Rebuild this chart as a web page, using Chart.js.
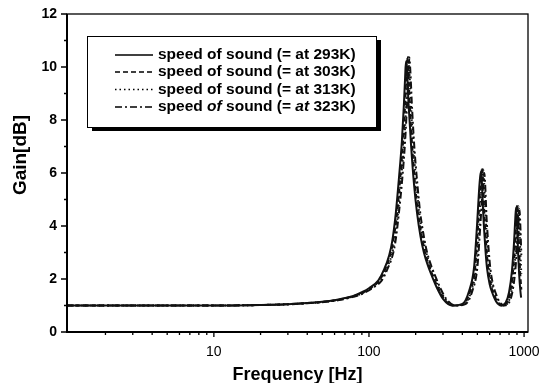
<!DOCTYPE html>
<html>
<head>
<meta charset="utf-8">
<script src="https://cdn.jsdelivr.net/npm/chart.js@4/dist/chart.umd.min.js"></script>
<style>
	html, body { margin: 0; padding: 0; background: #fff; }
	#okvir { width: 539px; height: 383px; }
</style>
</head>
<body>
<div id="okvir"><canvas id="graf"></canvas></div>
<script>
// frekvence [Hz] in ojacanje [dB], odcitano s slike
let freq293 = [1.13, 3, 10, 20, 30, 40, 50, 60, 70, 80, 90, 100, 115, 125, 135, 141, 149, 156, 163, 168, 171, 173, 176, 180, 187, 195, 204, 215, 226, 240, 255, 275, 300, 343, 398, 442, 476, 497, 512, 522, 528, 535, 545, 552, 565, 577, 600, 622, 660, 711, 760, 800, 835, 862, 878, 888, 900, 915, 929, 945, 957];
let gain293 = [1.0, 1.0, 1.0, 1.02, 1.05, 1.09, 1.14, 1.2, 1.28, 1.37, 1.5, 1.65, 1.95, 2.35, 2.9, 3.4, 4.5, 5.8, 7.2, 8.6, 9.6, 10.2, 9.8, 8.6, 7.0, 5.6, 4.5, 3.6, 3.0, 2.5, 2.1, 1.65, 1.25, 1.0, 1.05, 1.55, 2.45, 4.0, 5.3, 5.9, 6.05, 5.6, 4.5, 3.9, 3.0, 2.4, 1.8, 1.5, 1.15, 1.0, 1.1, 1.5, 2.3, 3.4, 4.3, 4.7, 4.2, 3.0, 2.2, 1.6, 1.3];

let freq303 = [1.13, 3, 10, 20, 30, 40, 51, 61, 71, 81, 92, 102, 117, 127, 137, 143, 152, 159, 166, 171, 174, 176, 179, 183, 190, 198, 207, 219, 230, 244, 259, 280, 305, 349, 405, 450, 484, 505, 521, 531, 537, 544, 554, 561, 575, 587, 610, 633, 671, 723, 773, 814, 849, 877, 893, 903, 915, 931, 945, 960];
let gain303 = [1.0, 1.0, 1.0, 1.02, 1.05, 1.09, 1.14, 1.2, 1.28, 1.37, 1.5, 1.65, 1.95, 2.35, 2.9, 3.4, 4.5, 5.8, 7.2, 8.6, 9.7, 10.35, 9.9, 8.7, 7.0, 5.6, 4.5, 3.6, 3.0, 2.5, 2.1, 1.65, 1.25, 1.0, 1.05, 1.55, 2.45, 4.0, 5.4, 6.0, 6.2, 5.7, 4.5, 3.9, 3.0, 2.4, 1.8, 1.5, 1.15, 1.0, 1.1, 1.5, 2.3, 3.4, 4.4, 4.8, 4.3, 3.0, 2.2, 1.6];

let freq313 = [1.13, 3, 10, 21, 31, 41, 52, 62, 72, 83, 93, 103, 119, 129, 140, 146, 154, 161, 169, 174, 177, 179, 182, 186, 193, 202, 211, 222, 234, 248, 264, 284, 310, 355, 412, 457, 492, 514, 529, 540, 546, 553, 564, 571, 584, 597, 620, 643, 682, 735, 786, 827, 863, 891, 908, 918, 930, 946, 960];
let gain313 = [1.0, 1.0, 1.0, 1.02, 1.05, 1.09, 1.14, 1.2, 1.28, 1.37, 1.5, 1.65, 1.95, 2.35, 2.9, 3.4, 4.5, 5.8, 7.2, 8.7, 9.8, 10.45, 9.9, 8.7, 7.1, 5.6, 4.5, 3.6, 3.0, 2.5, 2.1, 1.65, 1.25, 1.0, 1.05, 1.55, 2.45, 4.0, 5.3, 5.9, 6.1, 5.6, 4.5, 3.9, 3.0, 2.4, 1.8, 1.5, 1.15, 1.0, 1.1, 1.5, 2.3, 3.4, 4.3, 4.75, 4.2, 3.0, 2.2];

let freq323 = [1.13, 3, 10, 21, 32, 42, 53, 63, 74, 84, 95, 105, 121, 131, 142, 148, 156, 164, 171, 176, 180, 182, 185, 189, 196, 205, 214, 226, 237, 252, 268, 289, 315, 360, 418, 464, 500, 522, 538, 548, 554, 562, 572, 580, 593, 606, 630, 653, 693, 747, 798, 840, 877, 905, 922, 932, 945, 960];
let gain323 = [1.0, 1.0, 1.0, 1.02, 1.05, 1.09, 1.14, 1.2, 1.28, 1.37, 1.5, 1.65, 1.95, 2.35, 2.9, 3.4, 4.5, 5.8, 7.2, 8.6, 9.7, 10.35, 9.8, 8.6, 7.0, 5.6, 4.5, 3.6, 3.0, 2.5, 2.1, 1.65, 1.25, 1.0, 1.05, 1.55, 2.45, 4.0, 5.2, 5.8, 6.0, 5.5, 4.4, 3.8, 3.0, 2.4, 1.8, 1.5, 1.15, 1.0, 1.1, 1.5, 2.3, 3.4, 4.2, 4.65, 4.1, 2.9];

let oznake = ["speed of sound (= at 293K)", "speed of sound (= at 303K)", "speed of sound (= at 313K)", "speed of sound (= at 323K)"];
let crte = [[], [5, 3], [1.5, 3], [7, 3, 2, 3]];

let xGlavne = [10, 100, 1000];
let xPomozne = [2, 3, 4, 5, 6, 7, 8, 9, 20, 30, 40, 50, 60, 70, 80, 90, 200, 300, 400, 500, 600, 700, 800, 900];
let yGlavne = [0, 2, 4, 6, 8, 10, 12];
let yPomozne = [1, 3, 5, 7, 9, 11];

const PISAVA = "'Liberation Sans', Arial, sans-serif";

function tocke(f, g) {
	let n = Math.min(f.length, g.length);
	let t = [];
	for (let i = 0; i < n; i++) t.push({ x: f[i], y: g[i] });
	return t;
}

let serije = [[freq293, gain293], [freq303, gain303], [freq313, gain313], [freq323, gain323]];

let rama = {
	id: "rama",
	afterDraw(chart) {
		let ctx = chart.ctx;
		let a = chart.chartArea;
		let sx = chart.scales.x, sy = chart.scales.y;
		ctx.save();
		ctx.strokeStyle = "#000";
		ctx.lineWidth = 1.3;
		ctx.strokeRect(a.left, a.top, a.right - a.left, a.bottom - a.top);
		ctx.lineWidth = 2;
		ctx.beginPath();
		ctx.moveTo(a.left, a.top);
		ctx.lineTo(a.left, a.bottom);
		ctx.lineTo(a.right, a.bottom);
		ctx.stroke();

		// kljukice
		ctx.lineWidth = 1.3;
		ctx.beginPath();
		xGlavne.forEach(v => { let p = sx.getPixelForValue(v); ctx.moveTo(p, a.bottom); ctx.lineTo(p, a.bottom + 5); });
		xPomozne.forEach(v => { let p = sx.getPixelForValue(v); ctx.moveTo(p, a.bottom); ctx.lineTo(p, a.bottom + 3); });
		yGlavne.forEach(v => { let p = sy.getPixelForValue(v); ctx.moveTo(a.left, p); ctx.lineTo(a.left - 6, p); });
		yPomozne.forEach(v => { let p = sy.getPixelForValue(v); ctx.moveTo(a.left, p); ctx.lineTo(a.left - 3, p); });
		ctx.stroke();

		// naslova osi
		ctx.fillStyle = "#000";
		ctx.font = "bold 18px " + PISAVA;
		ctx.textAlign = "center";
		ctx.textBaseline = "alphabetic";
		ctx.fillText("Frequency [Hz]", (a.left + a.right) / 2, 380);
		ctx.save();
		ctx.font = "bold 19px " + PISAVA;
		ctx.translate(26, 155);
		ctx.rotate(-Math.PI / 2);
		ctx.fillText("Gain[dB]", 0, 0);
		ctx.restore();

		// legenda
		let L = 87, T = 36, R = 376, B = 127;
		ctx.fillStyle = "#000";
		ctx.fillRect(L + 5, T + 4, R - L, B - T);
		ctx.fillStyle = "#fff";
		ctx.fillRect(L, T, R - L, B - T);
		ctx.lineWidth = 1;
		ctx.strokeRect(L + 0.5, T + 0.5, R - L, B - T);
		let vrste = [55, 72, 89.5, 107];
		chart.data.datasets.forEach((ds, i) => {
			let y = vrste[i];
			ctx.setLineDash(ds.borderDash || []);
			ctx.lineWidth = 1.5;
			ctx.beginPath();
			ctx.moveTo(115, y);
			ctx.lineTo(153, y);
			ctx.stroke();
			ctx.setLineDash([]);
			ctx.fillStyle = "#000";
			ctx.textAlign = "left";
			ctx.textBaseline = "middle";
			if (i < 3) {
				ctx.font = "bold 15.5px " + PISAVA;
				ctx.fillText(ds.label, 158, y);
			} else {
				// zadnja vrstica ima "of" in "at" lezece
				let deli = ds.label.split(/\b(of|at)\b/);
				let x = 158;
				deli.forEach(d => {
					ctx.font = (d === "of" || d === "at" ? "italic bold 15.5px " : "bold 15.5px ") + PISAVA;
					ctx.fillText(d, x, y);
					x += ctx.measureText(d).width;
				});
			}
		});
		ctx.restore();
	}
};

let graf = new Chart("graf", {
	type: "line",
	data: {
		datasets: serije.map((s, i) => ({
			label: oznake[i],
			data: tocke(s[0], s[1]),
			borderColor: "#111",
			borderWidth: 2,
			borderDash: crte[i],
			pointRadius: 0,
			cubicInterpolationMode: "monotone",
			fill: false
		}))
	},
	options: {
		responsive: true,
		maintainAspectRatio: false,
		animation: false,
		devicePixelRatio: 1,
		layout: { padding: { top: 14, right: 11, left: 0, bottom: 0 } },
		plugins: { legend: { display: false }, tooltip: { enabled: false } },
		scales: {
			x: {
				type: "logarithmic",
				min: 1.13,
				max: 1060,
				grid: { display: false, drawTicks: false },
				border: { display: false },
				afterBuildTicks: s => { s.ticks = xGlavne.map(v => ({ value: v })); },
				afterFit: s => { s.height = 51; s.paddingLeft = 0; s.paddingRight = 0; },
				ticks: {
					autoSkip: false,
					maxRotation: 0,
					padding: 12,
					color: "#000",
					font: { family: PISAVA, size: 14 },
					callback: v => String(v)
				}
			},
			y: {
				min: 0,
				max: 12,
				grid: { display: false, drawTicks: false },
				border: { display: false },
				afterBuildTicks: s => { s.ticks = yGlavne.map(v => ({ value: v })); },
				afterFit: s => { s.width = 67; s.paddingTop = 0; s.paddingBottom = 0; },
				ticks: {
					padding: 10,
					color: "#000",
					font: { family: PISAVA, size: 14, weight: "bold" }
				}
			}
		}
	},
	plugins: [rama]
});
</script>
</body>
</html>
